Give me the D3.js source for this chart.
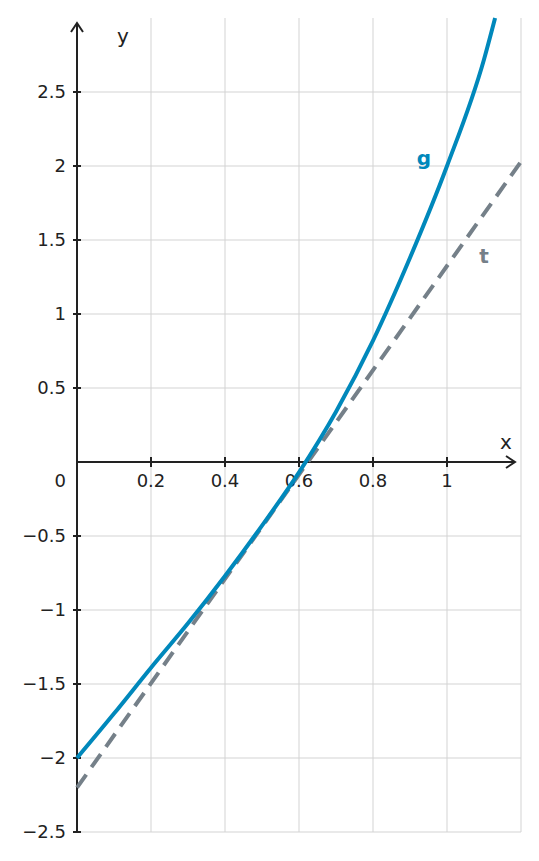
<!DOCTYPE html>
<html><head><meta charset="utf-8">
<script src="https://cdn.jsdelivr.net/npm/d3@7"></script>
<style>body{margin:0;background:#fff}text{font-family:"DejaVu Sans",sans-serif}</style>
</head><body><svg id="c" width="539" height="861"></svg>
<script>
// values
const gX = [0, 0.1, 0.2, 0.3, 0.4, 0.5, 0.6, 0.7, 0.8, 0.9, 1.0, 1.1, 1.13];
const gY = [-2, -1.7, -1.39, -1.09, -0.77, -0.43, -0.07, 0.34, 0.82, 1.38, 2.0, 2.72, 3.0];
const tX = [0, 1.2];
const tY = [-2.2, 2.03];
const xTicks = [0.2, 0.4, 0.6, 0.8, 1];
const yTicks = [-2.5, -2, -1.5, -1, -0.5, 0.5, 1, 1.5, 2, 2.5];

const svg = d3.select("#c");
const x = d3.scaleLinear().domain([0, 1.2]).range([77, 521]);
const y = d3.scaleLinear().domain([-2.5, 0]).range([832, 462]);
const fmt = v => String(v).replace("-", "\u2212");

const grid = svg.append("g").attr("stroke", "#d3d3d3").attr("stroke-width", 1);
xTicks.forEach(v => grid.append("line").attr("x1", x(v)).attr("x2", x(v)).attr("y1", 18).attr("y2", 832));
grid.append("line").attr("x1", x(1.2)).attr("x2", x(1.2)).attr("y1", 18).attr("y2", 832);
yTicks.forEach(v => grid.append("line").attr("x1", 77).attr("x2", 521).attr("y1", y(v)).attr("y2", y(v)));

const ax = svg.append("g").attr("stroke", "#222").attr("stroke-width", 2).attr("fill", "none");
ax.append("line").attr("x1", 77).attr("x2", 514).attr("y1", y(0)).attr("y2", y(0));
ax.append("line").attr("x1", 77).attr("x2", 77).attr("y1", 832).attr("y2", 24);
ax.append("path").attr("d", `M${506},${y(0) - 6}L${515},${y(0)}L${506},${y(0) + 6}`);
ax.append("path").attr("d", `M71,32L77,23L83,32`);
xTicks.forEach(v => ax.append("line").attr("x1", x(v)).attr("x2", x(v)).attr("y1", y(0) - 5).attr("y2", y(0) + 5));
yTicks.forEach(v => ax.append("line").attr("x1", 73).attr("x2", 81).attr("y1", y(v)).attr("y2", y(v)));

const lab = svg.append("g").attr("fill", "#222").attr("font-size", 18);
xTicks.forEach(v => lab.append("text").attr("x", x(v)).attr("y", y(0) + 25).attr("text-anchor", "middle").text(fmt(v)));
yTicks.forEach(v => lab.append("text").attr("x", 66).attr("y", y(v) + 6).attr("text-anchor", "end").text(fmt(v)));
lab.append("text").attr("x", 66).attr("y", y(0) + 25).attr("text-anchor", "end").text("0");
lab.append("text").attr("x", 506).attr("y", 449).attr("font-size", 20).attr("text-anchor", "middle").text("x");
lab.append("text").attr("x", 123).attr("y", 43).attr("font-size", 20).attr("text-anchor", "middle").text("y");

svg.append("path").datum(tX.map((v, i) => [v, tY[i]]))
  .attr("d", d3.line().x(d => x(d[0])).y(d => y(d[1])))
  .attr("fill", "none").attr("stroke", "#758089").attr("stroke-width", 4).attr("stroke-dasharray", "16,9");
svg.append("path").datum(gX.map((v, i) => [v, gY[i]]))
  .attr("d", d3.line().curve(d3.curveMonotoneX).x(d => x(d[0])).y(d => y(d[1])))
  .attr("fill", "none").attr("stroke", "#0088bb").attr("stroke-width", 4);

svg.append("text").attr("x", 424).attr("y", 165).attr("text-anchor", "middle").attr("font-size", 20)
  .attr("font-weight", "bold").attr("fill", "#0088bb").text("g");
svg.append("text").attr("x", 484).attr("y", 263).attr("text-anchor", "middle").attr("font-size", 20)
  .attr("font-weight", "bold").attr("fill", "#758089").text("t");
</script></body></html>
